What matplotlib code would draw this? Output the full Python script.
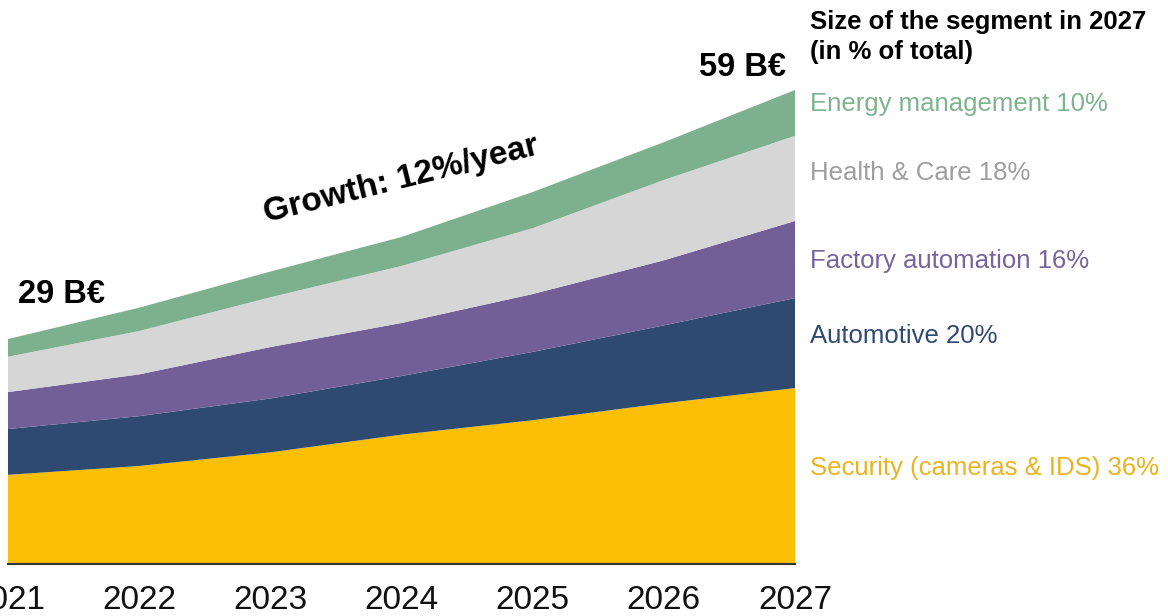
import numpy as np
import matplotlib
matplotlib.use("Agg")
import matplotlib.pyplot as plt

plt.rcParams['font.family'] = ['Liberation Sans', 'DejaVu Sans']

# market data (B€)
years = [2021, 2022, 2023, 2024, 2025, 2026, 2027]
security = [11.1, 12.2, 13.9, 16.1, 17.9, 20.0, 21.9]
automotive = [5.7, 6.2, 6.7, 7.3, 8.5, 9.7, 11.2]
factory = [4.6, 5.2, 6.4, 6.6, 7.2, 8.1, 9.6]
health = [4.4, 5.4, 6.2, 7.1, 8.2, 10.0, 10.6]
energy = [2.2, 2.9, 3.2, 3.6, 4.5, 4.7, 5.7]

names = ["Security (cameras & IDS) 36%", "Automotive 20%", "Factory automation 16%",
         "Health & Care 18%", "Energy management 10%"]
fill_colors = ["#FBC005", "#2F4A70", "#735F98", "#D6D6D6", "#7CB08E"]
text_colors = ["#E9B420", "#2F4A70", "#76649C", "#9E9E9E", "#7DB48F"]
label_y = [12.0, 28.4, 37.7, 48.7, 57.3]   # vertical position of the right-hand labels

fig = plt.figure(figsize=(11.68, 6.16), dpi=100)
ax = fig.add_axes([8 / 1168, 1 - 564 / 616, (795 - 8) / 1168, 564 / 616])

ax.stackplot(years, security, automotive, factory, health, energy,
             colors=fill_colors, linewidth=0)
ax.set_xlim(2021, 2027)
ax.set_ylim(0, 70.2)

for s in ["top", "right", "left"]:
    ax.spines[s].set_visible(False)
ax.spines["bottom"].set_color("#333333")
ax.spines["bottom"].set_linewidth(1.5)
ax.set_yticks([])
ax.set_xticks(years)
ax.set_xticklabels([str(y) for y in years], fontsize=24, color="#111111")
ax.tick_params(axis="x", length=0, pad=15)

for name, c, y in zip(names, text_colors, label_y):
    ax.text(2027.115, y, name, color=c, fontsize=18.5, va="center", ha="left", clip_on=False)

ax.text(2027.115, 65.6, "Size of the segment in 2027\n(in % of total)", fontsize=18.5,
        fontweight="bold", va="center", ha="left", linespacing=1.3, clip_on=False)

total = np.array(security) + np.array(automotive) + np.array(factory) + np.array(health) + np.array(energy)
ax.text(2021.075, total[0] + 5.5, "29 B€", fontsize=23.5, fontweight="bold", va="center", ha="left")
ax.text(2026.93, total[-1] + 2.8, "59 B€", fontsize=23.5, fontweight="bold", va="center", ha="right")
ax.text(2024.0, 47.8, "Growth: 12%/year", fontsize=24, fontweight="bold",
        rotation=14, va="center", ha="center")

fig.savefig("out.png", dpi=100)
